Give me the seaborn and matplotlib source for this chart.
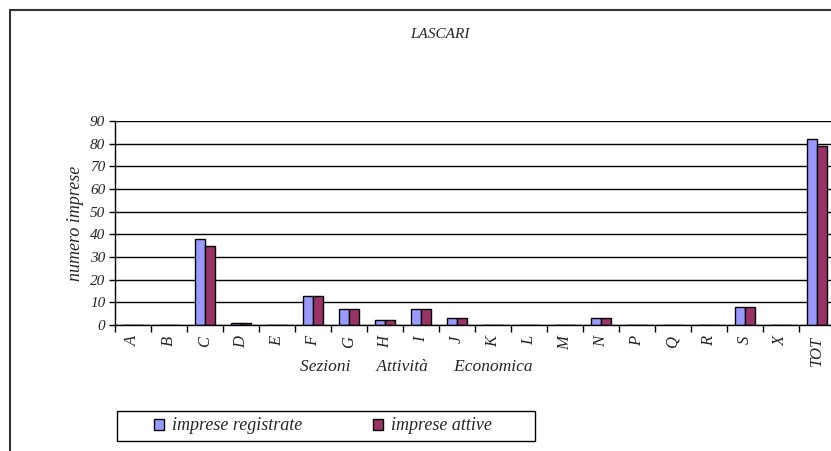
import pandas as pd
import seaborn as sns
import matplotlib.pyplot as plt
from matplotlib.lines import Line2D
from matplotlib.patches import Rectangle
from matplotlib.ticker import FixedLocator

# Data
sezioni = ['A', 'B', 'C', 'D', 'E', 'F', 'G', 'H', 'I', 'J',
           'K', 'L', 'M', 'N', 'P', 'Q', 'R', 'S', 'X', 'TOT']
registrate = [0, 0, 38, 1, 0, 13, 7, 2, 7, 3, 0, 0, 0, 3, 0, 0, 0, 8, 0, 82]
attive = [0, 0, 35, 1, 0, 13, 7, 2, 7, 3, 0, 0, 0, 3, 0, 0, 0, 8, 0, 79]
series = ['imprese registrate', 'imprese attive']
y_ticks = [0, 10, 20, 30, 40, 50, 60, 70, 80, 90]

df = pd.DataFrame({'sezione': sezioni * 2,
                   'valore': registrate + attive,
                   'serie': [series[0]] * len(sezioni) + [series[1]] * len(sezioni)})

sns.set_style('white')
plt.rcParams['font.family'] = ['Liberation Serif', 'DejaVu Serif']
plt.rcParams['font.style'] = 'italic'

W, H = 831, 451
fig = plt.figure(figsize=(W / 100, H / 100), dpi=100)
# plot area runs a bit past the right edge, like the cropped original
ax = fig.add_axes([115 / W, 1 - 325 / H, 720 / W, 204 / H])

sns.barplot(data=df, x='sezione', y='valore', hue='serie', order=sezioni,
            hue_order=series, palette=['#9999FF', '#993366'], width=0.58,
            edgecolor='black', linewidth=1, saturation=1, ax=ax, legend=True)

ax.set_ylim(0, 90)
ax.set_xlim(-0.5, len(sezioni) - 0.5)
ax.set_yticks(y_ticks)
ax.set_yticklabels([str(v) for v in y_ticks], fontsize=11, style='italic')
ax.yaxis.grid(True, color='black', linewidth=1)
ax.set_axisbelow(True)
ax.tick_params(axis='y', length=4, width=1, color='black', pad=3, left=True)

ax.set_xticks(range(len(sezioni)))
ax.set_xticklabels(sezioni, rotation=90, fontsize=12, style='italic')
ax.tick_params(axis='x', which='major', length=0, pad=8)
ax.xaxis.set_minor_locator(FixedLocator([i - 0.5 for i in range(len(sezioni) + 1)]))
ax.tick_params(axis='x', which='minor', length=5, width=1, color='black', bottom=True)

for s in ['top', 'right']:
    ax.spines[s].set_visible(False)
for s in ['left', 'bottom']:
    ax.spines[s].set_color('black')
    ax.spines[s].set_linewidth(1)

ax.set_xlabel('')
ax.set_ylabel('numero imprese', fontsize=13, style='italic', labelpad=4)

fig.text(416 / W, 1 - 367 / H, 'Sezioni      Attività      Economica',
         ha='center', va='center', fontsize=12.5, style='italic')
fig.text(440 / W, 1 - 34 / H, 'LASCARI', ha='center', va='center',
         fontsize=11, style='italic')

handles, labels = ax.get_legend_handles_labels()
ax.legend(handles, labels, ncol=2, loc='center left',
          bbox_to_anchor=(140 / W, 1 - 426 / H), bbox_transform=fig.transFigure,
          frameon=False, prop={'family': 'Liberation Serif', 'style': 'italic', 'size': 13},
          handlelength=0.55, handleheight=0.55, columnspacing=3.9,
          borderpad=0.3, handletextpad=0.45)

# legend box, wider than the entries as in the original
fig.add_artist(Rectangle((117 / W, 1 - 441 / H), 418 / W, 30 / H, fill=False,
                         edgecolor='black', lw=1, transform=fig.transFigure))

# outer chart frame (cropped at right and bottom)
fig.add_artist(Line2D([9.5 / W, 1.01], [1 - 9.5 / H] * 2, color='#333333', lw=1.5,
                      transform=fig.transFigure))
fig.add_artist(Line2D([9.5 / W] * 2, [-0.01, 1 - 9.5 / H], color='#333333', lw=1.5,
                      transform=fig.transFigure))

fig.savefig('out.png', dpi=100)
